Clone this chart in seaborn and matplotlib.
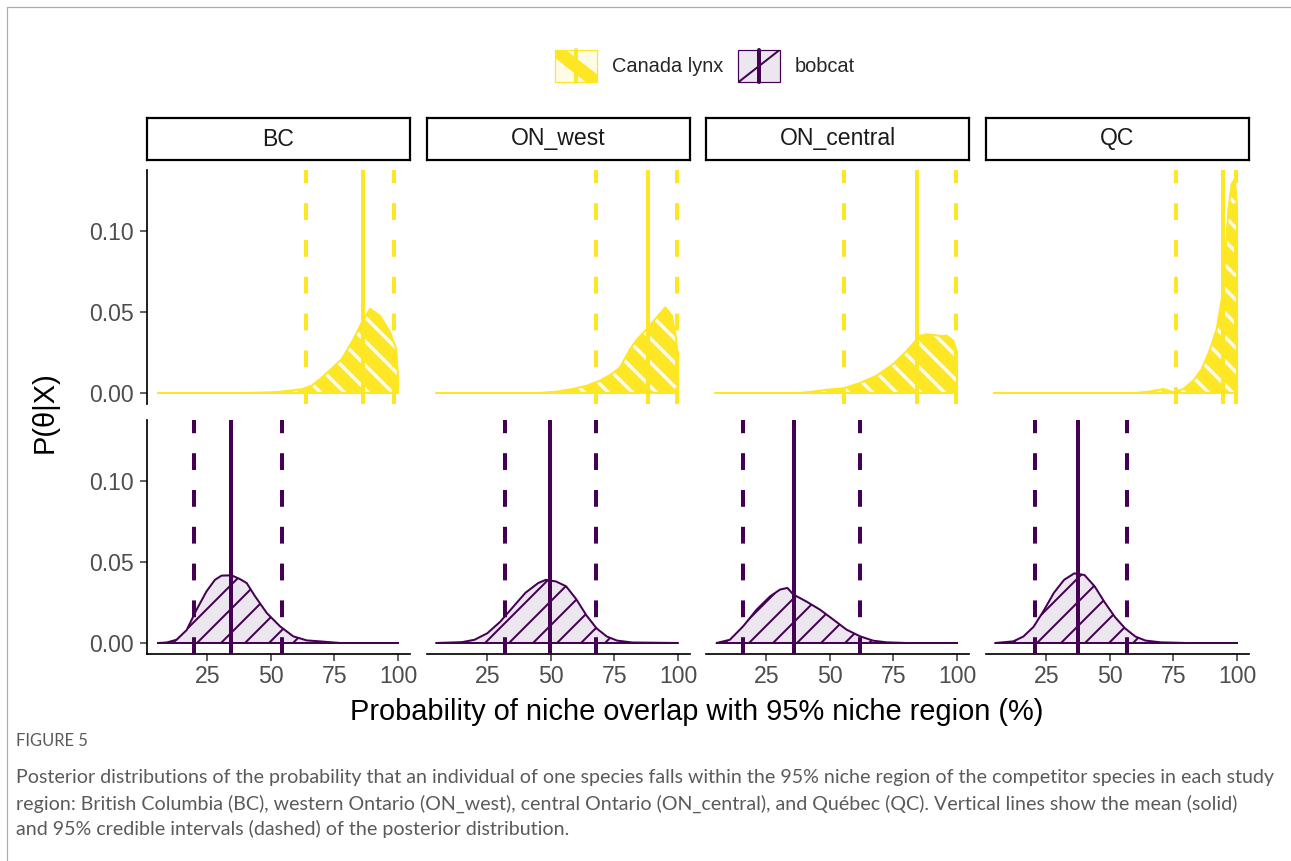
import matplotlib
matplotlib.use("Agg")
import matplotlib.pyplot as plt
import numpy as np
import pandas as pd
import seaborn as sns
from matplotlib.legend_handler import HandlerBase
from matplotlib.lines import Line2D
from matplotlib.patches import Rectangle

# ── data ────────────────────────────────────────────────────────────────────
regions = ["BC", "ON_west", "ON_central", "QC"]

lynx_bc_x = [5.7, 40, 52, 58, 62.6, 66, 69.3, 73.9, 77.9, 82.4, 85.7, 89.0, 92.9, 96.9, 99.3, 100]
lynx_bc_y = [0, 0, 0.0005, 0.0015, 0.0025, 0.0045, 0.0086, 0.015, 0.021, 0.033, 0.0436, 0.052, 0.0477, 0.0375, 0.027, 0.010]
lynx_onw_x = [5, 45, 52, 58.8, 64.1, 69.3, 73.9, 77.2, 81.1, 83.8, 87.7, 91.6, 95.0, 97.6, 99.3, 100]
lynx_onw_y = [0, 0, 0.0008, 0.0025, 0.0045, 0.0076, 0.0117, 0.0159, 0.027, 0.033, 0.0395, 0.0467, 0.0529, 0.0477, 0.033, 0.019]
lynx_onc_x = [5, 38, 44, 48.8, 55.3, 61.9, 68.4, 75.0, 80.2, 85.5, 88.0, 90.7, 94.0, 96.0, 98.5, 99.6, 100]
lynx_onc_y = [0, 0, 0.001, 0.002, 0.0029, 0.0062, 0.0107, 0.018, 0.026, 0.0354, 0.0362, 0.0358, 0.0352, 0.0354, 0.0323, 0.027, 0.021]
lynx_qc_x = [4.5, 60, 66, 71.0, 74.9, 78.9, 82.8, 86.1, 89.4, 92.0, 94.0, 95.3, 96.6, 97.9, 99.0, 99.6, 100]
lynx_qc_y = [0, 0, 0.001, 0.0025, 0.0005, 0.0025, 0.0076, 0.0148, 0.027, 0.0395, 0.058, 0.0827, 0.1136, 0.129, 0.132, 0.124, 0.114]

bobcat_bc_x = [5.7, 9, 12.9, 16.9, 20.8, 24.7, 28.0, 30.6, 34.5, 37.8, 40.5, 43.8, 48.4, 53.6, 58.8, 64.1, 69.3, 77.2, 100]
bobcat_bc_y = [0, 0.0003, 0.002, 0.008, 0.0206, 0.0319, 0.039, 0.0416, 0.0418, 0.0395, 0.037, 0.0288, 0.0185, 0.0103, 0.0041, 0.0016, 0.001, 0.0, 0]
bobcat_onw_x = [5, 15, 20, 25, 30, 35, 40, 45, 48, 52, 56, 60, 64, 68, 72, 76, 82, 100]
bobcat_onw_y = [0, 0.0005, 0.002, 0.006, 0.013, 0.022, 0.031, 0.037, 0.039, 0.038, 0.035, 0.027, 0.017, 0.009, 0.004, 0.0015, 0.0003, 0]
bobcat_onc_x = [5.5, 10.7, 15.9, 21.2, 26.5, 30.4, 33.3, 35.6, 40.9, 46.1, 51.4, 56.6, 61.9, 67.1, 72.4, 80, 100]
bobcat_onc_y = [0, 0.002, 0.0103, 0.0206, 0.0288, 0.033, 0.034, 0.030, 0.0255, 0.0206, 0.0144, 0.0082, 0.0041, 0.0014, 0.0004, 0, 0]
bobcat_qc_x = [5, 12, 16, 20, 24, 28, 32, 36, 40, 44, 48, 52, 56, 60, 64, 70, 80, 100]
bobcat_qc_y = [0, 0.001, 0.004, 0.010, 0.020, 0.031, 0.039, 0.043, 0.042, 0.035, 0.025, 0.016, 0.009, 0.004, 0.0015, 0.0004, 0, 0]

lynx_mean = [86.3, 88.1, 84.2, 94.4]
lynx_lo = [63.7, 67.8, 55.7, 76.0]
lynx_hi = [98.5, 99.5, 99.5, 99.6]
bobcat_mean = [34.3, 49.7, 36.0, 37.5]
bobcat_lo = [19.8, 32.0, 16.0, 20.6]
bobcat_hi = [54.5, 67.8, 61.9, 56.8]

x_ticks = [25, 50, 75, 100]
y_ticks = [0.00, 0.05, 0.10]

caption_head = "FIGURE 5"
caption_lines = [
    "Posterior distributions of the probability that an individual of one species falls within the 95% niche region of the competitor species in each study",
    "region: British Columbia (BC), western Ontario (ON_west), central Ontario (ON_central), and Québec (QC). Vertical lines show the mean (solid)",
    "and 95% credible intervals (dashed) of the posterior distribution.",
]

lynx_curves = [(lynx_bc_x, lynx_bc_y), (lynx_onw_x, lynx_onw_y),
               (lynx_onc_x, lynx_onc_y), (lynx_qc_x, lynx_qc_y)]
bobcat_curves = [(bobcat_bc_x, bobcat_bc_y), (bobcat_onw_x, bobcat_onw_y),
                 (bobcat_onc_x, bobcat_onc_y), (bobcat_qc_x, bobcat_qc_y)]

# ── styling ─────────────────────────────────────────────────────────────────
YELLOW = "#FDE725"
PURPLE = "#440154"
LAVENDER = "#ECE6EE"
PALE_YELLOW = "#FFFCE6"

sns.set_theme(style="white")
plt.rcParams["font.family"] = ["Liberation Sans", "DejaVu Sans"]

W, H, DPI = 1291, 861, 72
XLIM = (1.3, 104.7)
YLIM = (-0.0068, 0.1377)
LEFTS = [147, 427, 706, 986]
PW = 263
ROW_TOPS = [170, 420]
PH = 234


def px_rect(left, top, width, height):
    return [left / W, 1 - (top + height) / H, width / W, height / H]


species = [
    dict(curves=lynx_curves, mean=lynx_mean, lo=lynx_lo, hi=lynx_hi,
         line=YELLOW, face=YELLOW, hatch="\\", hatch_col=PALE_YELLOW, hatch_lw=3.5),
    dict(curves=bobcat_curves, mean=bobcat_mean, lo=bobcat_lo, hi=bobcat_hi,
         line=PURPLE, face=LAVENDER, hatch="/", hatch_col=PURPLE, hatch_lw=2.0),
]

fig = plt.figure(figsize=(W / DPI, H / DPI), dpi=DPI)

for row, sp in enumerate(species):
    for col, region in enumerate(regions):
        ax = fig.add_axes(px_rect(LEFTS[col], ROW_TOPS[row], PW, PH))
        xs, ys = sp["curves"][col]

        # hatched density fill
        poly_x = list(xs) + [xs[-1], xs[0]]
        poly_y = list(ys) + [0, 0]
        patches = ax.fill(poly_x, poly_y, facecolor=sp["face"], edgecolor=sp["hatch_col"],
                          hatch=sp["hatch"], lw=0, zorder=1)
        for p in patches:
            if hasattr(p, "set_hatch_linewidth"):
                p.set_hatch_linewidth(sp["hatch_lw"])

        # outline
        outline = pd.DataFrame({"x": poly_x + [xs[0]], "y": poly_y + [0]})
        sns.lineplot(data=outline, x="x", y="y", sort=False, estimator=None,
                     color=sp["line"], lw=2, ax=ax, zorder=2)

        # mean and credible interval
        ax.axvline(sp["mean"][col], color=sp["line"], lw=4, zorder=3)
        for v in (sp["lo"][col], sp["hi"][col]):
            ax.axvline(v, color=sp["line"], lw=4, dashes=(4.2, 5), zorder=3)

        ax.set_xlim(XLIM)
        ax.set_ylim(YLIM)
        ax.set_xlabel("")
        ax.set_ylabel("")
        ax.patch.set_alpha(0)
        for s in ["top", "right"]:
            ax.spines[s].set_visible(False)
        ax.spines["left"].set_visible(col == 0)
        ax.spines["bottom"].set_visible(row == 1)
        for s in ["left", "bottom"]:
            ax.spines[s].set_color("black")
            ax.spines[s].set_linewidth(1.7)

        if col == 0:
            ax.set_yticks(y_ticks)
            ax.set_yticklabels([f"{t:.2f}" for t in y_ticks])
            ax.tick_params(axis="y", length=7, width=1.5, color="#333333", pad=6,
                           labelsize=23, labelcolor="#4D4D4D", left=True)
        else:
            ax.set_yticks([])
        if row == 1:
            ax.set_xticks(x_ticks)
            ax.tick_params(axis="x", length=7, width=1.5, color="#333333", pad=4,
                           labelsize=23, labelcolor="#4D4D4D", bottom=True)
        else:
            ax.set_xticks([])

# facet strips
for col, region in enumerate(regions):
    sax = fig.add_axes(px_rect(LEFTS[col], 118, PW, 42))
    sax.set_xticks([])
    sax.set_yticks([])
    for s in sax.spines.values():
        s.set_visible(True)
        s.set_color("black")
        s.set_linewidth(2.2)
    sax.text(0.5, 0.5, region, ha="center", va="center", fontsize=23,
             color="#1A1A1A", transform=sax.transAxes)

# axis titles
fig.text(45 / W, 1 - 412 / H, "P(θ|X)", rotation=90, ha="center", va="center",
         fontsize=29, color="black")
fig.text(697 / W, 1 - 712 / H, "Probability of niche overlap with 95% niche region (%)",
         ha="center", va="center", fontsize=29, color="black")


# legend keys: hatched box plus vertical line
class SpeciesKey:
    def __init__(self, line, face, edge, band):
        self.line, self.face, self.edge, self.band = line, face, edge, band


class KeyHandler(HandlerBase):
    def create_artists(self, legend, orig_handle, xdescent, ydescent, width, height,
                       fontsize, trans):
        x0, y0 = -xdescent, -ydescent
        rect = Rectangle((x0, y0), width, height, facecolor=orig_handle.face,
                         edgecolor=orig_handle.edge, lw=1.2, transform=trans)
        if orig_handle.band:
            diag = Line2D([x0, x0 + width], [y0 + height, y0], color=orig_handle.line,
                          lw=13, solid_capstyle="butt", transform=trans)
        else:
            diag = Line2D([x0, x0 + width], [y0, y0 + height], color=orig_handle.line,
                          lw=2, transform=trans)
        diag.set_clip_path(rect)
        vline = Line2D([x0 + width / 2] * 2, [y0, y0 + height], color=orig_handle.line,
                       lw=4, transform=trans)
        return [rect, diag, vline]


keys = [SpeciesKey(YELLOW, PALE_YELLOW, YELLOW, True),
        SpeciesKey(PURPLE, LAVENDER, PURPLE, False)]
fig.legend(keys, ["Canada lynx", "bobcat"], handler_map={SpeciesKey: KeyHandler()},
           loc="center", bbox_to_anchor=(705 / W, 1 - 66 / H), ncol=2, frameon=False,
           fontsize=20, handlelength=2.1, handleheight=2.15, handletextpad=0.75,
           columnspacing=0.75)

# caption
fig.text(16 / W, 1 - 741 / H, caption_head, ha="left", va="center", fontsize=16.5,
         color="#5A5A5A", family=["Lato", "DejaVu Sans"])
for i, line in enumerate(caption_lines):
    fig.text(16 / W, 1 - (778 + 25.5 * i) / H, line, ha="left", va="center",
             fontsize=19.6, color="#5A5A5A", family=["Lato", "DejaVu Sans"])

# page border (top and left)
fig.add_artist(Line2D([7 / W, 1], [1 - 7 / H] * 2, color="#AAAAAA", lw=1.2))
fig.add_artist(Line2D([7 / W] * 2, [0, 1 - 7 / H], color="#AAAAAA", lw=1.2))

fig.savefig("out.png", dpi=DPI)
plt.close(fig)
